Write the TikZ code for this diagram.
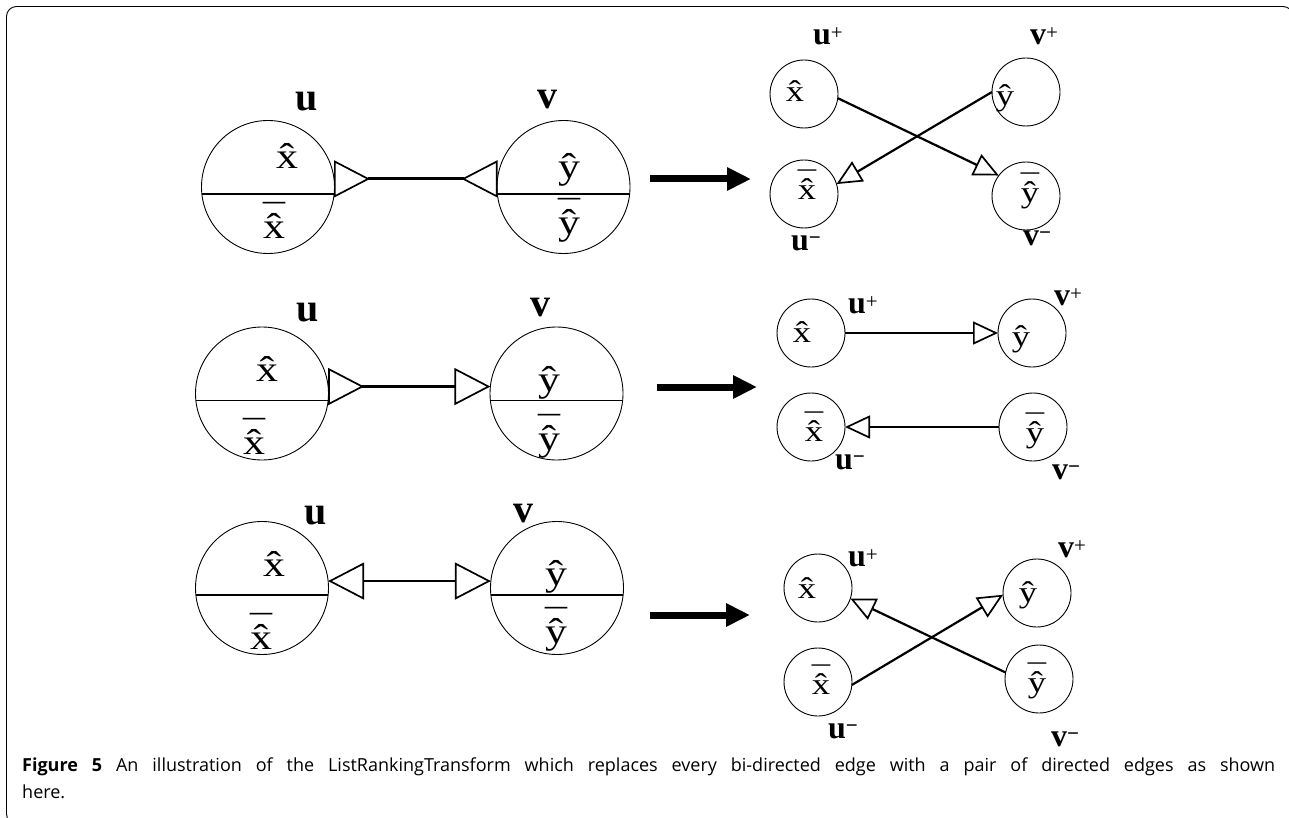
\documentclass[tikz,border=0pt]{standalone}
\usepackage{graphicx}
\usepackage{fontspec}
\setmainfont{Liberation Serif}
\newfontfamily\capfont{Open Sans}
\usetikzlibrary{arrows.meta}

% hatted and barred letters built from the text font, set a little wide
\newcommand{\wide}[1]{\scalebox{1.22}[1]{#1}}
\newcommand{\hatted}[1]{{\ooalign{#1\cr\hidewidth ˆ\hidewidth\cr}}}
\newcommand{\barhatted}[1]{{\ooalign{#1\cr\hidewidth ˆ\hidewidth\cr\hidewidth\raisebox{0.24em}{¯}\hidewidth\cr}}}
\newcommand{\hx}{\wide{\hatted{x}}}
\newcommand{\bx}{\wide{\barhatted{x}}}
\newcommand{\hy}{\wide{\hatted{y}}}
\newcommand{\by}{\wide{\barhatted{y}}}
\newcommand{\plabel}[1]{\textbf{#1}\raisebox{0.17em}{\fontsize{21}{21}\selectfont +}}
\newcommand{\mlabel}[1]{\textbf{#1}\raisebox{0.17em}{\fontsize{21}{21}\selectfont\bfseries −}}

\begin{document}
\begin{tikzpicture}[x=1pt,y=-1pt,
  big/.style={circle,draw,line width=0.9pt,minimum size=133pt,inner sep=0pt,outer sep=0pt},
  small/.style={circle,draw,line width=0.9pt,minimum size=68pt,inner sep=0pt,outer sep=0pt},
  chord/.style={line width=1.6pt},
  sym/.style={font=\fontsize{36}{36}\selectfont,inner sep=0pt},
  ssym/.style={font=\fontsize{30}{30}\selectfont,inner sep=0pt},
  lab/.style={font=\fontsize{40}{40}\selectfont\bfseries,inner sep=0pt},
  slab/.style={font=\fontsize{32}{32}\selectfont,inner sep=0pt},
  bond/.style={line width=2.8pt},
  link/.style={line width=2.2pt},
  fat/.style={line width=7pt,-{Triangle[length=24pt,width=22pt]}},
  OpenTri/.tip={Triangle[open,length=36pt,width=37pt,line width=1.7pt]},
  SmallTri/.tip={Triangle[open,length=25pt,width=23pt,line width=1.7pt]},
]
\useasboundingbox (0,0) rectangle (1289,818);
\clip (0,0) rectangle (1289,818);

% frame
\draw[line width=0.9pt,rounded corners=10pt] (22,824) -- (6.5,824) -- (6.5,6.5) -- (1293,6.5) -- (1293,40);

% ---------- row 1: edge with both heads pointing outward ----------
\node[big] (u1) at (268,187) {};
\node[big] (v1) at (563.5,187) {};
\draw[chord] (u1.186) -- (u1.-6);
\draw[chord] (v1.186) -- (v1.-6);
\node[sym] (u1t) at (287,160) {\hx};
\node[sym] (u1b) at (274,230) {\bx};
\node[sym] (v1t) at (569,170) {\hy};
\node[sym] (v1b) at (569,226) {\by};
\node[lab] (u1l) at (307,102) {u};
\node[lab] (v1l) at (547,100) {v};
\draw[bond,{OpenTri[reversed]}-{OpenTri[reversed]}] (u1.7) -- (v1.173);

% ---------- row 2 ----------
\node[big] (u2) at (262,393.5) {};
\node[big] (v2) at (556.5,393.5) {};
\draw[chord] (u2.186) -- (u2.-6);
\draw[chord] (v2.186) -- (v2.-6);
\node[sym] (u2t) at (267,373) {\hx};
\node[sym] (u2b) at (254,446) {\bx};
\node[sym] (v2t) at (549,383) {\hy};
\node[sym] (v2b) at (549,442) {\by};
\node[lab] (u2l) at (308,313) {u};
\node[lab] (v2l) at (540,308) {v};
\draw[bond,{OpenTri[reversed]}-{OpenTri}] (u2.6) -- (v2.174);

% ---------- row 3 ----------
\node[big] (u3) at (262,588) {};
\node[big] (v3) at (557,588) {};
\draw[chord] (u3.186) -- (u3.-6);
\draw[chord] (v3.186) -- (v3.-6);
\node[sym] (u3t) at (274,568) {\hx};
\node[sym] (u3b) at (261,641) {\bx};
\node[sym] (v3t) at (556,577) {\hy};
\node[sym] (v3b) at (556,635) {\by};
\node[lab] (u3l) at (316,516) {u};
\node[lab] (v3l) at (523,514) {v};
\draw[bond,{OpenTri}-{OpenTri}] (u3.6) -- (v3.174);

% ---------- transform arrows ----------
\coordinate (a1s) at (650,179); \coordinate (a1e) at (751,179);
\coordinate (a2s) at (657,387); \coordinate (a2e) at (757,387);
\coordinate (a3s) at (650,615); \coordinate (a3e) at (750,615);
\draw[fat] (a1s) -- (a1e);
\draw[fat] (a2s) -- (a2e);
\draw[fat] (a3s) -- (a3e);

% ---------- result 1: crossing edges ----------
\node[small] (up1) at (804,94) {};
\node[small] (um1) at (804,194) {};
\node[small] (vp1) at (1026,92) {};
\node[small] (vm1) at (1026,196) {};
\node[ssym] (up1t) at (795,95) {\hx};
\node[ssym] (um1t) at (807,193) {\bx};
\node[ssym] (vp1t) at (1005,99) {\hy};
\node[ssym] (vm1t) at (1030,196) {\by};
\node[slab] (up1l) at (828,36) {\plabel{u}};
\node[slab] (vp1l) at (1044,36) {\plabel{v}};
\node[slab] (um1l) at (806,243) {\mlabel{u}};
\node[slab] (vm1l) at (1037,238) {\mlabel{v}};
\draw[link,-{SmallTri}] (up1.-7) -- (vm1.143);
\draw[link,-{SmallTri}] (vp1.180) -- (um1.17);

% ---------- result 2: parallel edges ----------
\node[small] (up2) at (811,333) {};
\node[small] (um2) at (811,427) {};
\node[small] (vp2) at (1032,333) {};
\node[small] (vm2) at (1033,427) {};
\node[ssym] (up2t) at (802,336) {\hx};
\node[ssym] (um2t) at (814,435) {\bx};
\node[ssym] (vp2t) at (1021,340) {\hy};
\node[ssym] (vm2t) at (1035,436) {\by};
\node[slab] (up2l) at (863,305) {\plabel{u}};
\node[slab] (vp2l) at (1068,297) {\plabel{v}};
\node[slab] (um2l) at (850,462) {\mlabel{u}};
\node[slab] (vm2l) at (1066,472) {\mlabel{v}};
\draw[link,-{SmallTri}] (up2) -- (vp2);
\draw[link,-{SmallTri}] (vm2) -- (um2);

% ---------- result 3: crossing edges ----------
\node[small] (up3) at (818,588) {};
\node[small] (um3) at (818,682) {};
\node[small] (vp3) at (1037,593) {};
\node[small] (vm3) at (1039,679) {};
\node[ssym] (up3t) at (807,592) {\hx};
\node[ssym] (um3t) at (821,688) {\bx};
\node[ssym] (vp3t) at (1028,596) {\hy};
\node[ssym] (vm3t) at (1037,686) {\by};
\node[slab] (up3l) at (863,558) {\plabel{u}};
\node[slab] (vp3l) at (1072,549) {\plabel{v}};
\node[slab] (um3l) at (843,731) {\mlabel{u}};
\node[slab] (vm3l) at (1065,739) {\mlabel{v}};
\draw[link,-{SmallTri}] (um3.-5) -- (vp3.183);
\draw[link,-{SmallTri}] (vm3.169) -- (up3.-18);

% ---------- caption ----------
\node[anchor=north west,inner sep=0pt,text width=1253pt,align=justify,
      font=\capfont\fontsize{18}{27}\selectfont] (cap) at (22,758)
  {\hyphenpenalty=10000 \textbf{Figure 5} An illustration of the ListRankingTransform which replaces every bi-directed edge with a pair of directed edges as shown\linebreak here.};
\end{tikzpicture}
\end{document}
